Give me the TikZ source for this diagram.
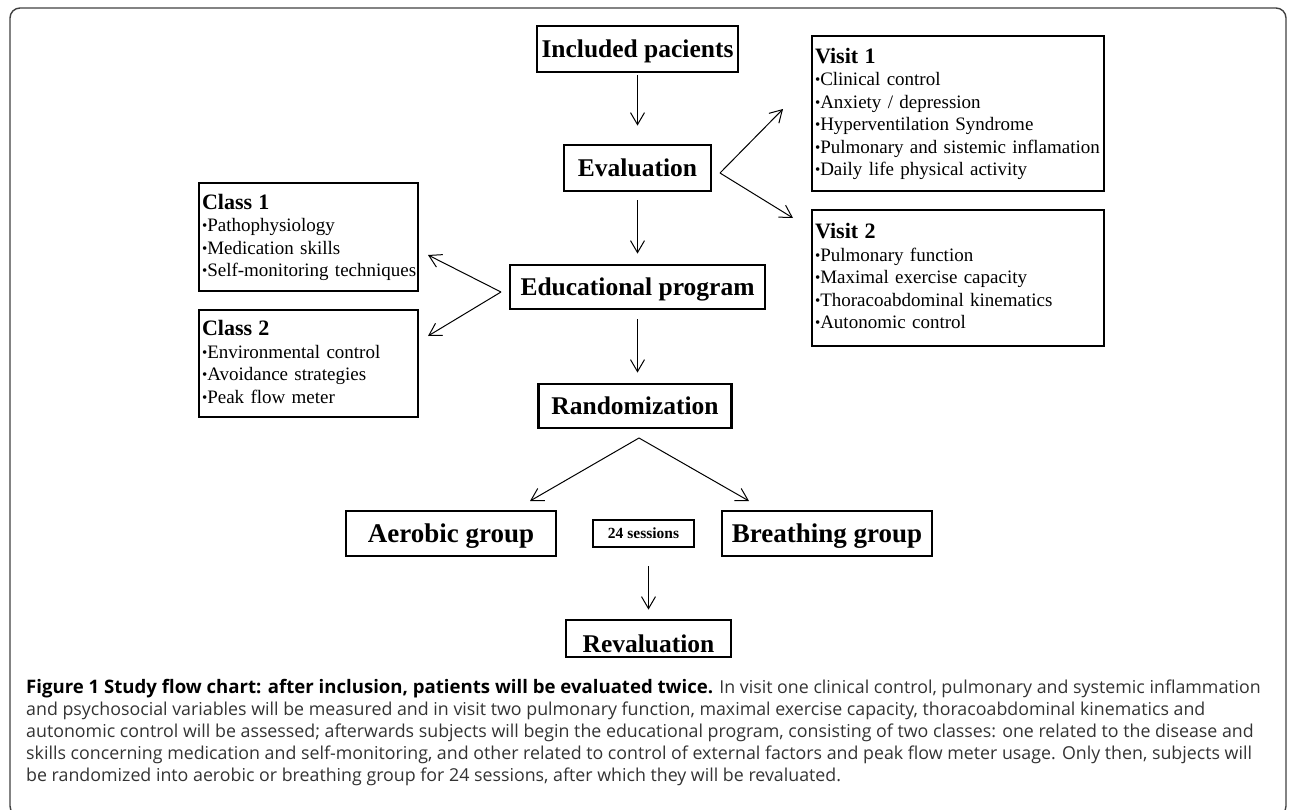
\documentclass[tikz,border=0pt]{standalone}
\usepackage{fontspec}
\setmainfont{Liberation Serif}
\newfontfamily\capfont{Open Sans}[BoldFont={Open Sans Bold}]
\usepackage{xcolor}
\usepackage{tikz}
\usetikzlibrary{shapes.geometric, arrows, arrows.meta}
\tikzstyle{arrow} = [line width=1pt,-{Straight Barb[length=12pt,width=14pt]}]
\tikzstyle{stepbox} = [draw, line width=2.8pt, inner sep=0pt, font=\fontsize{25.5}{30}\selectfont\bfseries, text height=17pt, text depth=0pt]
\tikzstyle{groupbox} = [stepbox, font=\fontsize{27}{32}\selectfont\bfseries, text height=18.4pt]
\tikzstyle{listbox} = [draw, line width=2.8pt, align=left, inner xsep=3pt, inner ysep=0pt, font=\fontsize{19}{22.5}\selectfont, text height=15.5pt]
\newcommand{\bul}{{\fontsize{15}{15}\selectfont\raisebox{1pt}{\textbullet}}}
\newcommand{\hd}[1]{{\fontsize{22}{22.5}\selectfont\bfseries #1}}

\begin{document}
\begin{tikzpicture}[x=1pt,y=-1pt]
        \useasboundingbox (0,0) rectangle (1290,809);
        % Frame
        \draw[black!75, line width=1.4pt, rounded corners=10pt] (10,8) rectangle (1286,816);

        % Main steps
        \node (incl) [stepbox, minimum width=201pt, minimum height=46pt] at (637.5,49) {Included pacients};
        \node (eval) [stepbox, minimum width=147pt, minimum height=46pt] at (637.5,168) {Evaluation};
        \node (edu) [stepbox, minimum width=255pt, minimum height=44pt] at (637.5,287) {Educational program};
        \node (rand) [stepbox, minimum width=193pt, minimum height=44pt] at (635,406) {Randomization};
        \node (aer) [groupbox, minimum width=210pt, minimum height=45pt] at (451,533.5) {Aerobic group};
        \node (sess) [stepbox, minimum width=101pt, minimum height=27pt, font=\fontsize{15.5}{18}\selectfont\bfseries, text height=10pt] at (643.5,533.5) {24 sessions};
        \node (breath) [groupbox, minimum width=210pt, minimum height=45pt] at (827,533.5) {Breathing group};
        \node (reval) [stepbox, minimum width=165pt, minimum height=37pt, text height=27pt] at (648.5,638.5) {Revaluation};

        % Visits
        \node (visit1) [listbox, text width=286pt, minimum height=155pt, text depth=116.5pt] at (958,113.5)
            {\hd{Visit 1}\\ \bul Clinical control\\ \bul Anxiety / depression\\ \bul Hyperventilation Syndrome\\
             \mbox{\bul Pulmonary and sistemic inflamation}\\ \bul Daily life physical activity};
        \node (visit2) [listbox, text width=286pt, minimum height=136pt, text depth=94pt] at (958,278)
            {\hd{Visit 2}\\ \bul Pulmonary function\\ \bul Maximal exercise capacity\\ \bul Thoracoabdominal kinematics\\
             \bul Autonomic control};

        % Classes
        \node (class1) [listbox, text width=213pt, minimum height=108pt, text depth=71.5pt] at (308.5,237)
            {\hd{Class 1}\\ \bul Pathophysiology\\ \bul Medication skills\\ \mbox{\bul Self-monitoring techniques}};
        \node (class2) [listbox, text width=213pt, minimum height=107pt, text depth=71.5pt] at (308.5,363.5)
            {\hd{Class 2}\\ \bul Environmental control\\ \bul Avoidance strategies\\ \bul Peak flow meter};

        % Straight arrows
        \draw[arrow, shorten <=2pt, shorten >=18pt] (incl.south) -- (eval.north);
        \draw[arrow, shorten <=8pt, shorten >=10pt] (eval.south) -- (edu.north);
        \draw[arrow, shorten <=9pt, shorten >=10pt] (edu.south) -- (edu.south |- rand.north);
        \draw[arrow, shorten <=18pt, shorten >=9pt] (sess.south -| reval.north) -- (reval.north);

        % Forks
        \coordinate (evalfork) at (720,173);
        \coordinate (v1tip) at (783,109);
        \coordinate (v2tip) at (793,218);
        \draw[arrow] (evalfork) -- (v1tip);
        \draw[arrow] (evalfork) -- (v2tip);
        \coordinate (edufork) at (501,292);
        \coordinate (c1tip) at (428,255);
        \coordinate (c2tip) at (428,336);
        \draw[arrow] (edufork) -- (c1tip);
        \draw[arrow] (edufork) -- (c2tip);
        \coordinate (randfork) at (639,438);
        \coordinate (aertip) at (530,501);
        \coordinate (brtip) at (749,501);
        \draw[arrow] (randfork) -- (aertip);
        \draw[arrow] (randfork) -- (brtip);

        % Caption
        \node (cap) [anchor=north west, align=left, inner sep=0pt, text=black!80,
            font=\capfont\fontsize{17.8}{22}\selectfont] at (26,679)
            {{\fontsize{18.6}{22}\selectfont\bfseries\color{black}Figure 1 Study flow chart: after inclusion, patients will be evaluated twice.} In visit one clinical control, pulmonary and systemic inflammation\\
             and psychosocial variables will be measured and in visit two pulmonary function, maximal exercise capacity, thoracoabdominal kinematics and\\
             autonomic control will be assessed; afterwards subjects will begin the educational program, consisting of two classes: one related to the disease and\\
             skills concerning medication and self-monitoring, and other related to control of external factors and peak flow meter usage. Only then, subjects will\\
             be randomized into aerobic or breathing group for 24 sessions, after which they will be revaluated.};
\end{tikzpicture}
\end{document}
